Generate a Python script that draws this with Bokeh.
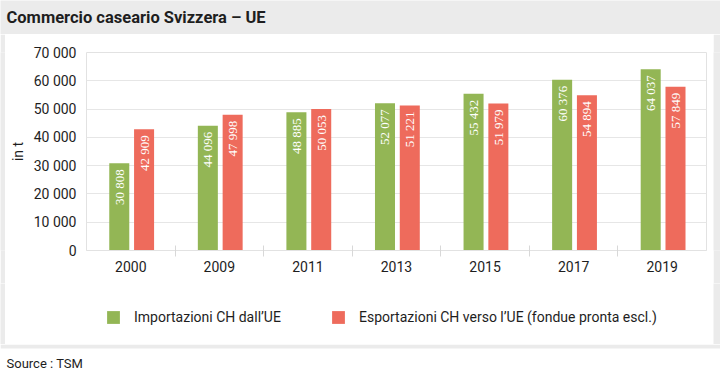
import math
from bokeh.plotting import figure
from bokeh.layouts import column, row
from bokeh.models import (Range1d, FixedTicker, BoxAnnotation, Label, Legend,
                          LegendItem, ColumnDataSource)
from bokeh.embed import file_html
from bokeh.resources import INLINE

# ---- data ----
years = ["2000", "2009", "2011", "2013", "2015", "2017", "2019"]
imports_ch = [30808, 44096, 48885, 52077, 55432, 60376, 64037]
exports_ch = [42909, 47998, 50053, 51221, 51979, 54894, 57849]
y_ticks = [0, 10000, 20000, 30000, 40000, 50000, 60000, 70000]
y_tick_labels = ["0", "10 000", "20 000", "30 000", "40 000", "50 000", "60 000", "70 000"]
series_names = ["Importazioni CH dall\u2019UE",
                "Esportazioni CH verso l\u2019UE (fondue pronta escl.)"]
title_text = "Commercio caseario Svizzera \u2013 UE"
source_text = "Source : TSM"
unit_text = "in t"

GREEN = "#93b655"
RED = "#ee6b5c"
GRAY_BG = "#ebebeb"
GRID = "#e6e6e6"
TXT = "#1e1e1e"
FONT = "Roboto"


def fmt(v):
    return f"{v:,}".replace(",", " ")


def blank(w, h, bg):
    f = figure(width=w, height=h, x_range=Range1d(0, w), y_range=Range1d(h, 0),
               x_axis_type=None, y_axis_type=None, output_backend="svg",
               toolbar_location=None, min_border=0, outline_line_color=None,
               background_fill_color=bg, border_fill_color=bg)
    return f


# ---- title band ----
top = blank(720, 34, GRAY_BG)
top.add_layout(Label(x=6, y=17, text=title_text, text_font=FONT,
                     text_font_size="16.5px", text_font_style="bold",
                     text_color=TXT, text_baseline="alphabetic"))

# ---- main chart ----
idx = list(range(len(years)))
src_imp = ColumnDataSource(dict(x=[i - 0.13 for i in idx], top=imports_ch,
                                lab=[fmt(v) for v in imports_ch]))
src_exp = ColumnDataSource(dict(x=[i + 0.15 for i in idx], top=exports_ch,
                                lab=[fmt(v) for v in exports_ch]))

p = figure(width=708, height=249,
           x_range=Range1d(-0.5, len(years) - 0.5), y_range=Range1d(0, 70000),
           output_backend="svg", toolbar_location=None,
           min_border_left=81, min_border_right=7, min_border_top=18,
           min_border_bottom=33,
           border_fill_color="white", background_fill_color="white",
           outline_line_color="#e2e2e2")

p.vbar(x="x", top="top", width=0.226, source=src_imp,
       fill_color=GREEN, line_color=None)
p.vbar(x="x", top="top", width=0.226, source=src_exp,
       fill_color=RED, line_color=None)

for s in (src_imp, src_exp):
    p.text(x="x", y="top", text="lab", source=s, angle=math.pi / 2,
           text_align="right", text_baseline="middle", y_offset=6,
           text_color="white", text_font=FONT, text_font_size="13px")

p.xgrid.visible = False
p.ygrid.ticker = FixedTicker(ticks=y_ticks)
p.ygrid.grid_line_color = GRID

p.xaxis.ticker = FixedTicker(ticks=idx, minor_ticks=[i + 0.5 for i in idx[:-1]])
p.xaxis.major_label_overrides = {i: y for i, y in zip(idx, years)}
p.xaxis.major_tick_line_color = None
p.xaxis.major_tick_out = 0
p.xaxis.major_tick_in = 0
p.xaxis.minor_tick_in = 5
p.xaxis.minor_tick_out = 6
p.xaxis.minor_tick_line_color = "#d8d8d8"
p.xaxis.axis_line_color = "#e2e2e2"
p.xaxis.major_label_standoff = 4
p.xaxis.major_label_text_font = FONT
p.xaxis.major_label_text_font_size = "14px"
p.xaxis.major_label_text_color = TXT

p.yaxis.ticker = FixedTicker(ticks=y_ticks)
p.yaxis.major_label_overrides = {t: s for t, s in zip(y_ticks, y_tick_labels)}
p.yaxis.axis_line_color = None
p.yaxis.major_tick_line_color = None
p.yaxis.minor_tick_line_color = None
p.yaxis.major_tick_out = 0
p.yaxis.major_tick_in = 0
p.yaxis.major_label_standoff = 10
p.yaxis.major_label_text_font = FONT
p.yaxis.major_label_text_font_size = "14px"
p.yaxis.major_label_text_color = TXT
p.yaxis.axis_label = unit_text
p.yaxis.axis_label_text_font = FONT
p.yaxis.axis_label_text_font_size = "14px"
p.yaxis.axis_label_text_font_style = "normal"
p.yaxis.axis_label_text_color = TXT
p.yaxis.axis_label_standoff = 5

# ---- legend band (renderers hidden, only their legend swatches are shown) ----
leg = blank(708, 61, "white")
lr_imp = leg.vbar(x="x", top="top", width=0.226, source=src_imp,
                  fill_color=GREEN, line_color=None, visible=False)
lr_exp = leg.vbar(x="x", top="top", width=0.226, source=src_exp,
                  fill_color=RED, line_color=None, visible=False)
for rend, name, loc in [(lr_imp, series_names[0], (100, 19)),
                        (lr_exp, series_names[1], (325, 19))]:
    lg = Legend(items=[LegendItem(label=name, renderers=[rend])], location=loc,
                orientation="horizontal", padding=0, margin=0, spacing=0,
                glyph_width=16, glyph_height=16, label_height=16,
                label_standoff=13, border_line_color=None,
                background_fill_alpha=0, inactive_fill_alpha=0,
                click_policy="none", label_text_font=FONT,
                label_text_font_size="14px", label_text_color=TXT,
                label_text_baseline="middle")
    leg.add_layout(lg, "center")

# ---- side strips ----
band_mid = row(blank(5, 249, GRAY_BG), p, blank(7, 249, GRAY_BG), spacing=0)
band_leg = row(blank(5, 61, GRAY_BG), leg, blank(7, 61, GRAY_BG), spacing=0)

# ---- source band ----
bot = blank(720, 34, "white")
bot.add_layout(BoxAnnotation(top=0, bottom=4, fill_color=GRAY_BG, fill_alpha=1,
                             line_color=None))
bot.add_layout(Label(x=6, y=19, text=source_text, text_font=FONT,
                     text_font_size="13px", text_color=TXT,
                     text_baseline="alphabetic"))

layout = column(top, band_mid, band_leg, bot, spacing=0)

open("out.html", "w").write(file_html(layout, INLINE))
